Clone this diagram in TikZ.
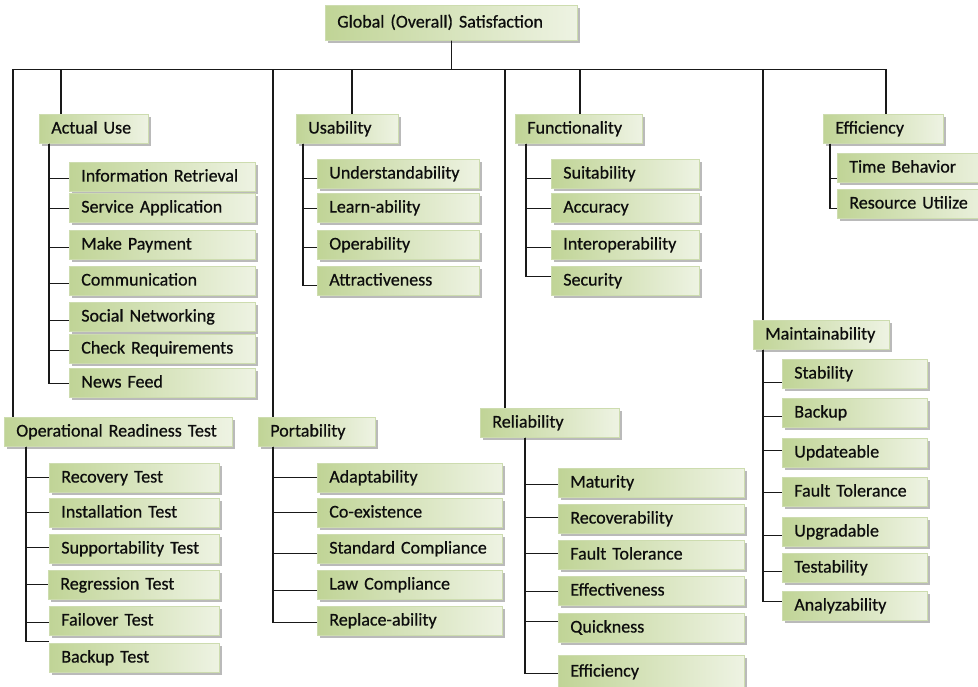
\documentclass[tikz,border=0pt]{standalone}
\usepackage{fontspec}
\setmainfont{Carlito}[WordSpace=0.55, FakeBold=0.6]
\usetikzlibrary{shadows}
\definecolor{gA}{RGB}{192,212,150}
\definecolor{gB}{RGB}{238,243,227}
\definecolor{gE}{RGB}{205,220,175}
\tikzset{
  box/.style={draw=gE, line width=0.6pt, left color=gA, right color=gB,
    drop shadow={shadow xshift=2.5pt, shadow yshift=-2.5pt, opacity=0.45, fill=black!60},
    anchor=north west, inner xsep=12pt, inner ysep=0pt,
    text height=12.5pt, text depth=3pt, font=\fontsize{18}{20}\selectfont,
    text=black!95, align=left},
  conn/.style={draw=black!90, line width=1.1pt}
}
\newcommand\mkbox[6]{%
  \pgfmathsetmacro\bxw{#4-#2-24}%
  \pgfmathsetmacro\bxh{#5-#3}%
  \node[box, text width=\bxw pt, minimum height=\bxh pt] (#1) at (#2,#3) {\mbox{#6}};}
\newcommand\lnk[4]{\draw[conn] ([xshift=#2pt]#1.south west) |- ([yshift=#4pt]#3.west);}
\newcommand\drop[2]{\draw[conn] (g.south) -- ++(0,29) -| ([xshift=#2pt]#1.north west);}
\begin{document}
\begin{tikzpicture}[x=1pt,y=-1pt]
\useasboundingbox (0,0) rectangle (978,686);
\clip (0,0) rectangle (978,686);
% top level
\mkbox{g}{325}{5}{577}{40}{Global (Overall) Satisfaction}
\mkbox{au}{39}{114}{148}{143}{Actual Use}
\mkbox{us}{296}{114}{398}{143}{Usability}
\mkbox{fu}{515}{114}{642}{143}{Functionality}
\mkbox{ef}{823}{114}{943}{143}{Efficiency}
\mkbox{ma}{753}{320}{889}{349}{Maintainability}
\mkbox{re}{480}{408}{619}{437}{Reliability}
\mkbox{ort}{4}{417}{232}{446}{Operational Readiness Test}
\mkbox{po}{258}{417}{375}{446}{Portability}
% actual use
\mkbox{au1}{69}{162}{255}{191}{Information Retrieval}
\mkbox{au2}{69}{193}{255}{222}{Service Application}
\mkbox{au3}{69}{230}{255}{259}{Make Payment}
\mkbox{au4}{69}{266}{255}{295}{Communication}
\mkbox{au5}{69}{302}{255}{331}{Social Networking}
\mkbox{au6}{69}{334}{255}{363}{Check Requirements}
\mkbox{au7}{69}{368}{255}{397}{News Feed}
% usability
\mkbox{us1}{317}{159}{479}{188}{Understandability}
\mkbox{us2}{317}{193}{479}{222}{Learn-ability}
\mkbox{us3}{317}{230}{479}{259}{Operability}
\mkbox{us4}{317}{266}{479}{295}{Attractiveness}
% functionality
\mkbox{fu1}{551}{159}{699}{188}{Suitability}
\mkbox{fu2}{551}{193}{699}{222}{Accuracy}
\mkbox{fu3}{551}{230}{699}{259}{Interoperability}
\mkbox{fu4}{551}{266}{699}{295}{Security}
% efficiency
\mkbox{ef1}{837}{153}{995}{182}{Time Behavior}
\mkbox{ef2}{837}{189}{995}{218}{Resource Utilize}
% maintainability
\mkbox{ma1}{782}{359}{927}{388}{Stability}
\mkbox{ma2}{782}{398}{927}{427}{Backup}
\mkbox{ma3}{782}{438}{927}{467}{Updateable}
\mkbox{ma4}{782}{477}{927}{506}{Fault Tolerance}
\mkbox{ma5}{782}{517}{927}{546}{Upgradable}
\mkbox{ma6}{782}{553}{927}{582}{Testability}
\mkbox{ma7}{782}{591}{927}{620}{Analyzability}
% reliability
\mkbox{re1}{558}{468}{744}{497}{Maturity}
\mkbox{re2}{558}{504}{744}{533}{Recoverability}
\mkbox{re3}{558}{540}{744}{569}{Fault Tolerance}
\mkbox{re4}{558}{576}{744}{605}{Effectiveness}
\mkbox{re5}{558}{613}{744}{642}{Quickness}
\mkbox{re6}{558}{655}{744}{688}{Efficiency}
% operational readiness
\mkbox{or1}{49}{463}{219}{492}{Recovery Test}
\mkbox{or2}{49}{498}{219}{527}{Installation Test}
\mkbox{or3}{49}{534}{219}{563}{Supportability Test}
\mkbox{or4}{48}{570}{219}{599}{Regression Test}
\mkbox{or5}{49}{606}{219}{635}{Failover Test}
\mkbox{or6}{49}{643}{219}{672}{Backup Test}
% portability
\mkbox{po1}{317}{463}{502}{492}{Adaptability}
\mkbox{po2}{317}{498}{502}{527}{Co-existence}
\mkbox{po3}{317}{534}{502}{563}{Standard Compliance}
\mkbox{po4}{317}{570}{502}{599}{Law Compliance}
\mkbox{po5}{317}{606}{502}{635}{Replace-ability}
% drops from global
\drop{ort}{9}
\drop{au}{22}
\drop{po}{15}
\drop{us}{56}
\drop{re}{25}
\drop{fu}{65}
\drop{ma}{10}
\drop{ef}{63}
% child links
\lnk{au}{10}{au1}{-1.5}
\lnk{au}{10}{au2}{-0.5}
\lnk{au}{10}{au3}{-2.5}
\lnk{au}{10}{au4}{-2.5}
\lnk{au}{10}{au5}{-3.5}
\lnk{au}{10}{au6}{-1.5}
\lnk{au}{10}{au7}{-0.5}
\lnk{us}{7}{us1}{-4.5}
\lnk{us}{7}{us2}{-0.5}
\lnk{us}{7}{us3}{-2.5}
\lnk{us}{7}{us4}{-4.5}
\lnk{fu}{11}{fu1}{-4.5}
\lnk{fu}{11}{fu2}{-0.5}
\lnk{fu}{11}{fu3}{-2.5}
\lnk{fu}{11}{fu4}{4.5}
\lnk{ef}{7}{ef1}{-10.5}
\lnk{ef}{7}{ef2}{-4.5}
\lnk{ma}{10}{ma1}{-8.5}
\lnk{ma}{10}{ma2}{-3.5}
\lnk{ma}{10}{ma3}{2.5}
\lnk{ma}{10}{ma4}{-0.5}
\lnk{ma}{10}{ma5}{-3.5}
\lnk{ma}{10}{ma6}{-3.5}
\lnk{ma}{10}{ma7}{4.5}
\lnk{re}{45}{re1}{-1.5}
\lnk{re}{45}{re2}{1.5}
\lnk{re}{45}{re3}{1.5}
\lnk{re}{45}{re4}{-0.5}
\lnk{re}{45}{re5}{6.5}
\lnk{re}{45}{re6}{-1.5}
\lnk{ort}{22}{or1}{0}
\lnk{ort}{22}{or2}{0}
\lnk{ort}{22}{or3}{1.5}
\lnk{ort}{22}{or4}{0}
\lnk{ort}{22}{or5}{-1.5}
\lnk{ort}{22}{or6}{16}
\lnk{po}{15}{po1}{0}
\lnk{po}{15}{po2}{0}
\lnk{po}{15}{po3}{-4.5}
\lnk{po}{15}{po4}{-5.5}
\lnk{po}{15}{po5}{-1.5}
\end{tikzpicture}
\end{document}
